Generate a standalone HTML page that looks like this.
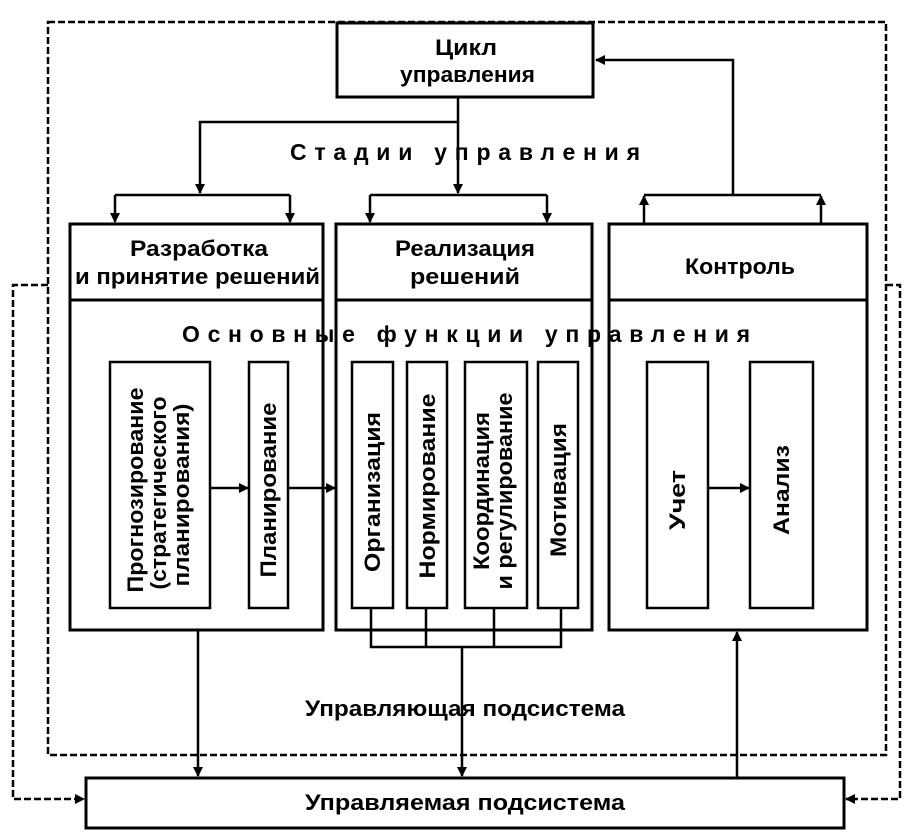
<!DOCTYPE html>
<html><head><meta charset="utf-8"><style>
html,body{margin:0;padding:0;background:#fff;}
svg{display:block;}
text{font-family:"Liberation Sans",sans-serif;font-weight:bold;fill:#000;}
</style></head><body>
<svg width="912" height="836" viewBox="0 0 912 836" xmlns="http://www.w3.org/2000/svg">
<defs>
<marker id="a" markerWidth="10" markerHeight="10" refX="9" refY="5" orient="auto" markerUnits="userSpaceOnUse">
<path d="M0,0 L10,5 L0,10 z" fill="#000"/></marker>
</defs>
<g fill="none" stroke="#000">
<rect x="48" y="22" width="838" height="733" stroke-width="2.5" stroke-dasharray="7,3"/>
<path d="M48,285 H13 V799 H84" stroke-width="2.5" stroke-dasharray="7,3" marker-end="url(#a)"/>
<path d="M886,285 H900 V799 H846" stroke-width="2.5" stroke-dasharray="7,3" marker-end="url(#a)"/>
<g stroke-width="3">
<rect x="337" y="23" width="256" height="74" fill="#fff"/>
<rect x="70" y="224" width="253" height="76"/>
<rect x="70" y="300" width="253" height="330"/>
<rect x="336" y="224" width="256" height="76"/>
<rect x="336" y="300" width="256" height="330"/>
<rect x="609" y="224" width="258" height="76"/>
<rect x="609" y="300" width="258" height="330"/>
<rect x="86" y="778" width="758" height="50" fill="#fff"/>
</g>
<g stroke-width="2.5">
<rect x="110" y="362" width="100" height="246"/>
<rect x="249" y="362" width="39" height="246"/>
<rect x="352" y="362" width="41" height="246"/>
<rect x="407" y="362" width="40" height="246"/>
<rect x="465" y="362" width="62" height="246"/>
<rect x="538" y="362" width="40" height="246"/>
<rect x="647" y="362" width="61" height="246"/>
<rect x="750" y="362" width="63" height="246"/>
</g>
<g stroke-width="2.5">
<path d="M733,195 V60 H596" marker-end="url(#a)"/>
<path d="M458,97 V122 H200 V193" marker-end="url(#a)"/>
<path d="M458,122 V193" marker-end="url(#a)"/>
<path d="M115,195 H290"/>
<path d="M115,195 V222" marker-end="url(#a)"/>
<path d="M290,195 V222" marker-end="url(#a)"/>
<path d="M370,195 H547"/>
<path d="M370,195 V222" marker-end="url(#a)"/>
<path d="M547,195 V222" marker-end="url(#a)"/>
<path d="M644,195 H821"/>
<path d="M644,224 V196" marker-end="url(#a)"/>
<path d="M821,224 V196" marker-end="url(#a)"/>
<path d="M210,488 H248" marker-end="url(#a)"/>
<path d="M288,488 H335" marker-end="url(#a)"/>
<path d="M708,488 H749" marker-end="url(#a)"/>
<path d="M371,608 V647 H561 V608 M426,608 V647 M494,608 V647"/>
<path d="M462,647 V776" marker-end="url(#a)"/>
<path d="M198,630 V776" marker-end="url(#a)"/>
<path d="M737,778 V632" marker-end="url(#a)"/>
</g>
</g>
<g font-size="22" lengthAdjust="spacingAndGlyphs">
<text x="435" y="55" textLength="62" lengthAdjust="spacingAndGlyphs">Цикл</text>
<text x="400" y="82" textLength="135" lengthAdjust="spacingAndGlyphs">управления</text>
<text x="290" y="160" font-size="23" textLength="350" lengthAdjust="spacing">Стадии управления</text>
<text x="130" y="256" textLength="138" lengthAdjust="spacingAndGlyphs">Разработка</text>
<text x="75" y="284" textLength="245" lengthAdjust="spacingAndGlyphs">и принятие решений</text>
<text x="395" y="256" textLength="140" lengthAdjust="spacingAndGlyphs">Реализация</text>
<text x="410" y="284" textLength="110" lengthAdjust="spacingAndGlyphs">решений</text>
<text x="685" y="274" textLength="110" lengthAdjust="spacingAndGlyphs">Контроль</text>
<text x="182" y="342" font-size="23" textLength="568" lengthAdjust="spacing">Основные функции управления</text>
<text x="305" y="716" textLength="320" lengthAdjust="spacingAndGlyphs">Управляющая подсистема</text>
<text x="305" y="810" textLength="320" lengthAdjust="spacingAndGlyphs">Управляемая подсистема</text>
</g>
<g font-size="22" text-anchor="middle">
<text transform="translate(143,490) rotate(-90)" textLength="205" lengthAdjust="spacingAndGlyphs">Прогнозирование</text>
<text transform="translate(166,493) rotate(-90)" textLength="193" lengthAdjust="spacingAndGlyphs">(стратегического</text>
<text transform="translate(189,495) rotate(-90)" textLength="183" lengthAdjust="spacingAndGlyphs">планирования)</text>
<text transform="translate(276,490) rotate(-90)" textLength="175" lengthAdjust="spacingAndGlyphs">Планирование</text>
<text transform="translate(380,492) rotate(-90)" textLength="160" lengthAdjust="spacingAndGlyphs">Организация</text>
<text transform="translate(435,486) rotate(-90)" textLength="185" lengthAdjust="spacingAndGlyphs">Нормирование</text>
<text transform="translate(489,491) rotate(-90)" textLength="158" lengthAdjust="spacingAndGlyphs">Координация</text>
<text transform="translate(512,491) rotate(-90)" textLength="197" lengthAdjust="spacingAndGlyphs">и регулирование</text>
<text transform="translate(566,490) rotate(-90)" textLength="134" lengthAdjust="spacingAndGlyphs">Мотивация</text>
<text transform="translate(685,500) rotate(-90)" textLength="60" lengthAdjust="spacingAndGlyphs">Учет</text>
<text transform="translate(789,490) rotate(-90)" textLength="90" lengthAdjust="spacingAndGlyphs">Анализ</text>
</g>
</svg>
</body></html>
